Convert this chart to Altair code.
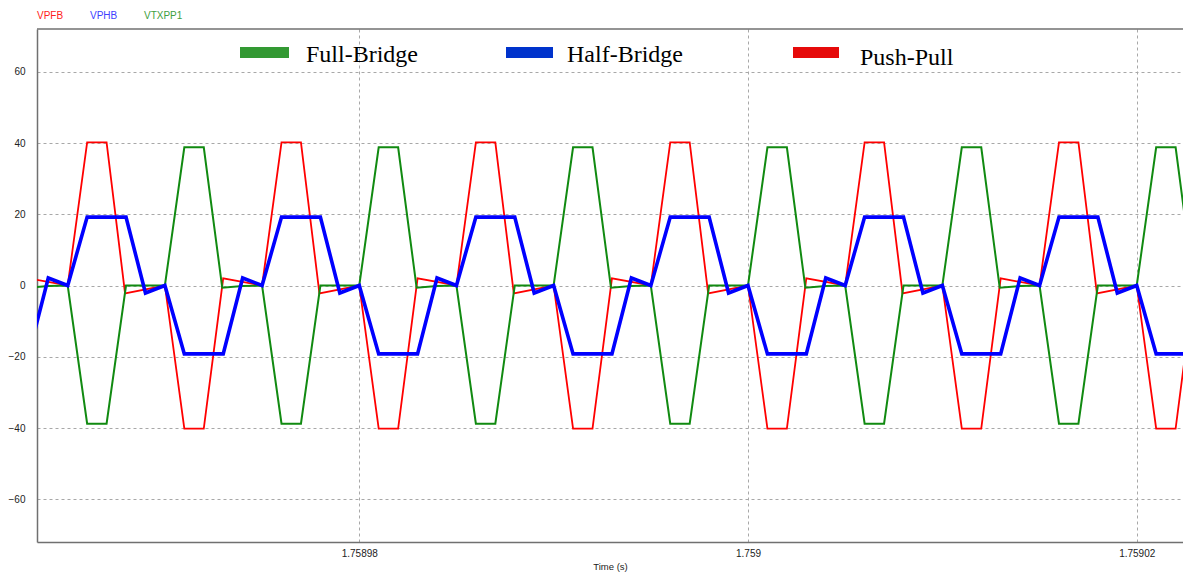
import altair as alt
import pandas as pd

# ---------------- data (time in microseconds relative to 1.75898 s) ----------------
x_tick_values = [0, 20, 40]
x_tick_labels = ["1.75898", "1.759", "1.75902"]
y_tick_values = [-60, -40, -20, 0, 20, 40, 60]

probe_names = ["VPFB", "VPHB", "VTXPP1"]
legend_names = ["Full-Bridge", "Half-Bridge", "Push-Pull"]

# Push-Pull (red)
pp_t = [-17, -15, -14, -13, -12.05, -10, -9, -8, -7, -5,
        -4, -3, -2.05, 0, 1, 2, 3, 5,
        6, 7, 7.95, 10, 11, 12, 13, 15,
        16, 17, 17.95, 20, 21, 22, 23, 25,
        26, 27, 27.95, 30, 31, 32, 33, 35,
        36, 37, 37.95, 40, 41, 42, 43]
pp_v = [2.0, 0, 40.2, 40.2, -2.2, 0, -40.2, -40.2, 2.0, 0,
        40.2, 40.2, -2.2, 0, -40.2, -40.2, 2.0, 0,
        40.2, 40.2, -2.2, 0, -40.2, -40.2, 2.0, 0,
        40.2, 40.2, -2.2, 0, -40.2, -40.2, 2.0, 0,
        40.2, 40.2, -2.2, 0, -40.2, -40.2, 2.0, 0,
        40.2, 40.2, -2.2, 0, -40.2, -40.2, 2.0]

# Half-Bridge (blue)
hb_t = [-17, -16, -15,
        -14, -12, -11, -10, -9, -7, -6, -5,
        -4, -2, -1, 0, 1, 3, 4, 5,
        6, 8, 9, 10, 11, 13, 14, 15,
        16, 18, 19, 20, 21, 23, 24, 25,
        26, 28, 29, 30, 31, 33, 34, 35,
        36, 38, 39, 40, 41, 43]
hb_v = [-19.2, 2.1, 0,
        19.2, 19.2, -2.1, 0, -19.2, -19.2, 2.1, 0,
        19.2, 19.2, -2.1, 0, -19.2, -19.2, 2.1, 0,
        19.2, 19.2, -2.1, 0, -19.2, -19.2, 2.1, 0,
        19.2, 19.2, -2.1, 0, -19.2, -19.2, 2.1, 0,
        19.2, 19.2, -2.1, 0, -19.2, -19.2, 2.1, 0,
        19.2, 19.2, -2.1, 0, -19.2, -19.2]

# Full-Bridge (green)
fb_t = [-17.05, -16, -15,
        -14, -13, -12, -10, -9, -8, -7.05, -6, -5,
        -4, -3, -2, 0, 1, 2, 2.95, 4, 5,
        6, 7, 8, 10, 11, 12, 12.95, 14, 15,
        16, 17, 18, 20, 21, 22, 22.95, 24, 25,
        26, 27, 28, 30, 31, 32, 32.95, 34, 35,
        36, 37, 38, 40, 41, 42, 42.95]
fb_v = [-0.6, -0.15, 0,
        -38.8, -38.8, 0, 0, 38.8, 38.8, -0.6, -0.15, 0,
        -38.8, -38.8, 0, 0, 38.8, 38.8, -0.6, -0.15, 0,
        -38.8, -38.8, 0, 0, 38.8, 38.8, -0.6, -0.15, 0,
        -38.8, -38.8, 0, 0, 38.8, 38.8, -0.6, -0.15, 0,
        -38.8, -38.8, 0, 0, 38.8, 38.8, -0.6, -0.15, 0,
        -38.8, -38.8, 0, 0, 38.8, 38.8, -0.6]

# ---------------- layout / style ----------------
W, H = 1146, 513
X_DOMAIN = [-16.58, 42.38]
Y_DOMAIN = [-72, 72]
FRAME = "#707070"
GRID = "#a8a8a8"

line_colors = {"Full-Bridge": "#118a11", "Half-Bridge": "#0000ff", "Push-Pull": "#ff0000"}
line_widths = {"Full-Bridge": 2.0, "Half-Bridge": 3.6, "Push-Pull": 1.8}
patch_colors = {"Full-Bridge": "#339933", "Half-Bridge": "#0033cc", "Push-Pull": "#e60a0a"}
probe_colors = {"VPFB": "#ff2020", "VPHB": "#4040ff", "VTXPP1": "#40a040"}

label_expr = " : ".join(
    f"datum.value == {v} ? '{l}'" for v, l in zip(x_tick_values[:-1], x_tick_labels[:-1])
) + f" : '{x_tick_labels[-1]}'"

x_enc = alt.X("t:Q",
              scale=alt.Scale(domain=X_DOMAIN, nice=False, zero=False),
              axis=alt.Axis(values=x_tick_values, labelExpr=label_expr, title="Time (s)",
                            grid=True, gridDash=[3, 3], gridColor=GRID, gridWidth=1,
                            ticks=False, domainColor=FRAME, domainWidth=1.5,
                            labelFont="Liberation Sans", labelFontSize=10, labelColor="#222",
                            labelPadding=6, titleFont="Liberation Sans", titleFontSize=9.5,
                            titleFontWeight="normal", titleColor="#222", titlePadding=3))
y_enc = alt.Y("v:Q",
              scale=alt.Scale(domain=Y_DOMAIN, nice=False),
              axis=alt.Axis(values=y_tick_values, title=None, grid=True, gridDash=[3, 3],
                            gridColor=GRID, gridWidth=1, ticks=False, domainColor=FRAME,
                            domainWidth=1.5, labelFont="Liberation Sans", labelFontSize=10,
                            labelColor="#222", labelPadding=12))

series = [("Push-Pull", pp_t, pp_v), ("Full-Bridge", fb_t, fb_v), ("Half-Bridge", hb_t, hb_v)]
layers = []
for name, ts, vs in series:
    df = pd.DataFrame({"t": ts, "v": vs, "series": name})
    layers.append(
        alt.Chart(df).mark_line(color=line_colors[name], strokeWidth=line_widths[name],
                                clip=True, strokeJoin="miter")
        .encode(x=x_enc, y=y_enc)
    )

# top frame line
layers.append(alt.Chart(pd.DataFrame({"a": [0]})).mark_rule(color=FRAME, strokeWidth=1.5)
              .encode(x=alt.value(0), x2=alt.value(W), y=alt.value(0)))

# probe labels above the plot
probe_x = {"VPFB": 0, "VPHB": 53, "VTXPP1": 107}
for p in probe_names:
    layers.append(alt.Chart(pd.DataFrame({"label": [p]})).mark_text(
        align="left", baseline="middle", font="Liberation Sans", fontSize=10,
        color=probe_colors[p]).encode(text="label:N", x=alt.value(probe_x[p]), y=alt.value(-13)))

# inset legend
patch_x = {"Full-Bridge": (203, 252), "Half-Bridge": (469, 516), "Push-Pull": (756, 802)}
text_x = {"Full-Bridge": 269, "Half-Bridge": 530, "Push-Pull": 823}
text_y = {"Full-Bridge": 26, "Half-Bridge": 26, "Push-Pull": 29}
for n in legend_names:
    one = pd.DataFrame({"label": [n]})
    layers.append(alt.Chart(one).mark_rect(color=patch_colors[n]).encode(
        x=alt.value(patch_x[n][0]), x2=alt.value(patch_x[n][1]),
        y=alt.value(18), y2=alt.value(29)))
    layers.append(alt.Chart(one).mark_text(
        align="left", baseline="middle", font="Liberation Serif", fontSize=24,
        color="#000").encode(text="label:N", x=alt.value(text_x[n]), y=alt.value(text_y[n])))

chart = alt.layer(*layers).properties(
    width=W, height=H,
    autosize=alt.AutoSizeParams(type="none"),
    padding={"left": 37, "top": 29, "right": 0, "bottom": 31},
    background="white",
).configure_view(stroke=None)

chart.save("out.html", embed_options={"renderer": "svg", "actions": False})
